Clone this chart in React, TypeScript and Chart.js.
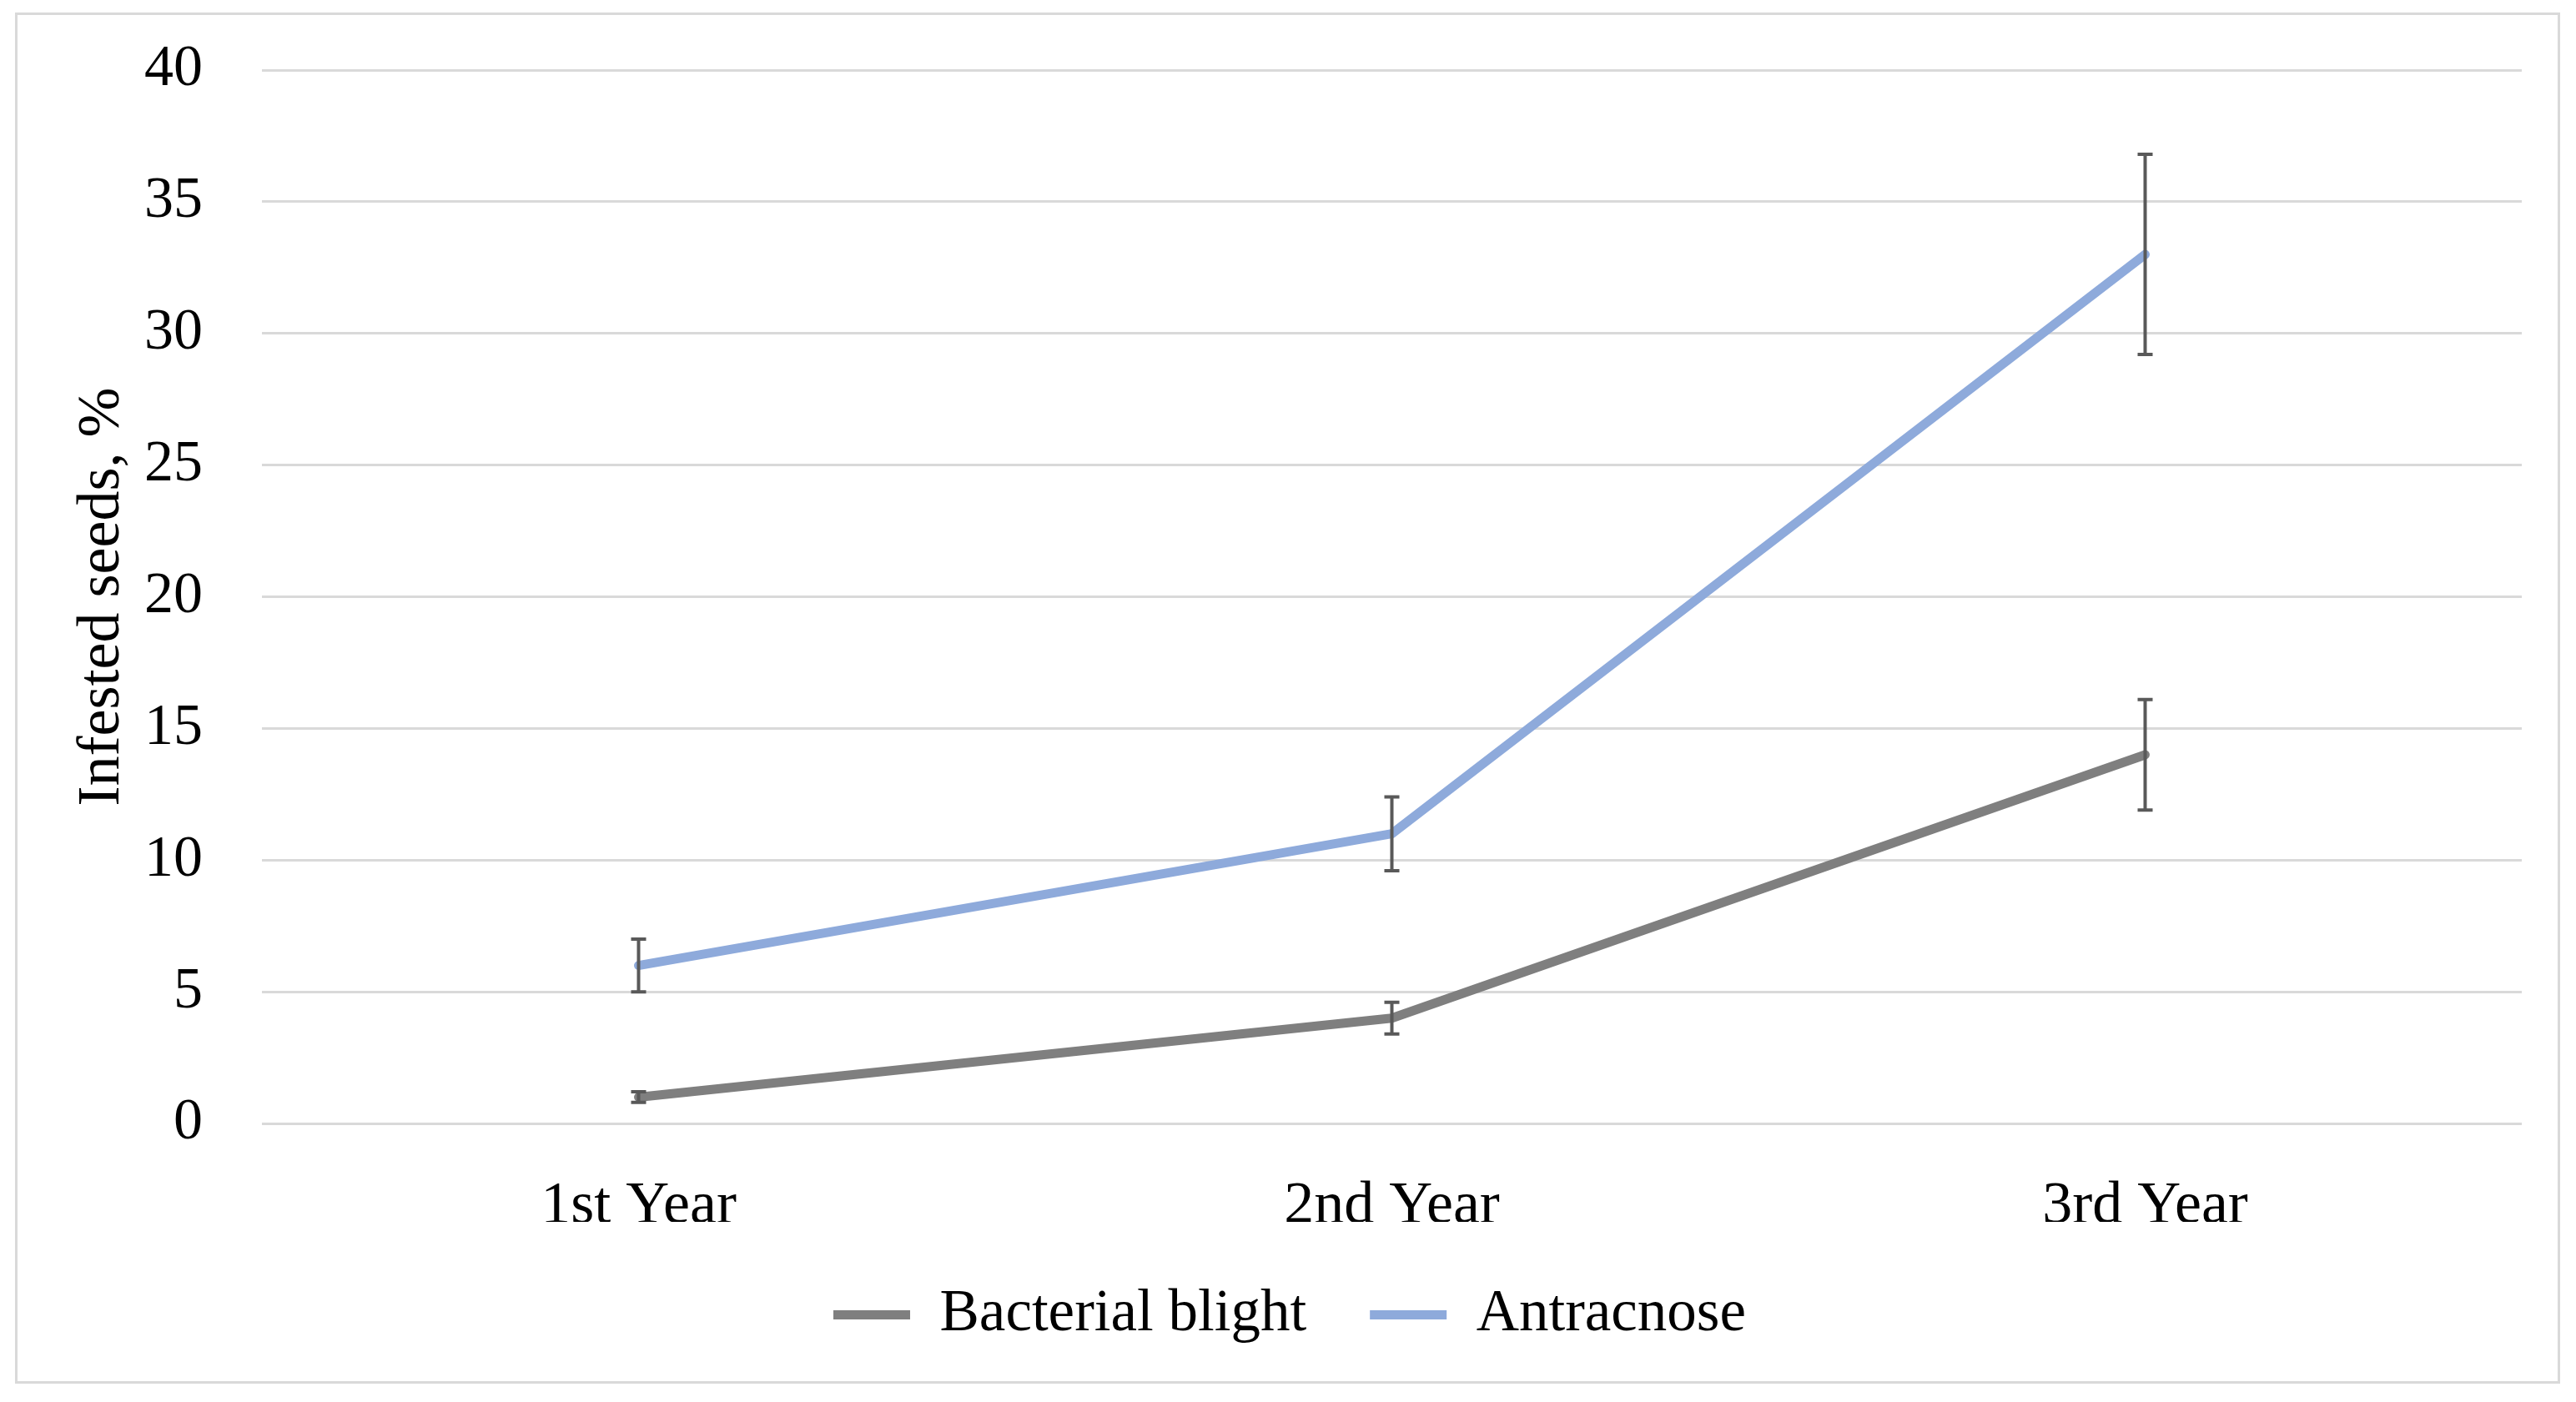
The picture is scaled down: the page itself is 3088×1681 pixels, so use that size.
import React, { useEffect, useRef } from 'react';
import { Chart, registerables } from 'chart.js';

Chart.register(...registerables);

const categories = ['1st Year', '2nd Year', '3rd Year'];
const seriesNames = ['Bacterial blight', 'Antracnose'];
const bacterialBlight = [1, 4, 14];
const bacterialBlightErr = [0.2, 0.6, 2.1];
const antracnose = [6, 11, 33];
const antracnoseErr = [1.0, 1.4, 3.8];
const yMin = 0;
const yMax = 40;
const yStep = 5;
const yTitle = 'Infested seeds, %';

const FONT = "'Liberation Serif', 'Times New Roman', serif";
const W = 3088;
const H = 1681;

const framePlugin = {
  id: 'frame',
  beforeDraw(chart: any) {
    const ctx = chart.ctx;
    ctx.save();
    ctx.fillStyle = '#ffffff';
    ctx.fillRect(0, 0, chart.width, chart.height);
    ctx.strokeStyle = '#d9d9d9';
    ctx.lineWidth = 3;
    ctx.strokeRect(19.5, 16.5, 3048, 1641);
    ctx.restore();
  },
};

const errorBarPlugin = {
  id: 'errorBars',
  afterDatasetsDraw(chart: any) {
    const ctx = chart.ctx;
    const xs = chart.scales.x;
    const ys = chart.scales.y;
    chart.data.datasets.forEach((ds: any) => {
      const errs: number[] = ds.errors;
      if (!errs) return;
      ds.data.forEach((v: number, i: number) => {
        const px = xs.getPixelForValue(i);
        const yt = ys.getPixelForValue(v + errs[i]);
        const yb = ys.getPixelForValue(v - errs[i]);
        ctx.save();
        ctx.strokeStyle = '#595959';
        ctx.lineWidth = 4;
        ctx.beginPath();
        ctx.moveTo(px, yt);
        ctx.lineTo(px, yb);
        ctx.moveTo(px - 9, yt);
        ctx.lineTo(px + 9, yt);
        ctx.moveTo(px - 9, yb);
        ctx.lineTo(px + 9, yb);
        ctx.stroke();
        ctx.restore();
      });
    });
  },
};

export default function App() {
  const ref = useRef<HTMLCanvasElement | null>(null);

  useEffect(() => {
    if (!ref.current) return;
    const chart = new Chart(ref.current, {
      type: 'line',
      data: {
        labels: categories,
        datasets: [
          {
            label: seriesNames[0],
            data: bacterialBlight,
            errors: bacterialBlightErr,
            borderColor: '#7f7f7f',
            backgroundColor: '#7f7f7f',
            borderWidth: 11,
            borderCapStyle: 'round',
            borderJoinStyle: 'round',
            pointRadius: 0,
            tension: 0,
          } as any,
          {
            label: seriesNames[1],
            data: antracnose,
            errors: antracnoseErr,
            borderColor: '#8eaadb',
            backgroundColor: '#8eaadb',
            borderWidth: 11,
            borderCapStyle: 'round',
            borderJoinStyle: 'round',
            pointRadius: 0,
            tension: 0,
          } as any,
        ],
      },
      options: {
        responsive: false,
        animation: false,
        layout: { padding: { left: 69, right: 65, top: 84, bottom: 59 } },
        plugins: {
          tooltip: { enabled: false },
          legend: {
            position: 'bottom',
            labels: {
              usePointStyle: true,
              pointStyle: 'line',
              pointStyleWidth: 92,
              padding: 76,
              color: '#000',
              font: { family: FONT, size: 71 },
            },
          },
        },
        scales: {
          x: {
            type: 'category',
            offset: true,
            grid: { display: false, drawTicks: false },
            border: { display: false },
            ticks: {
              color: '#000',
              padding: 57,
              font: { family: FONT, size: 72 },
            },
            afterFit(scale: any) {
              scale.height = 118;
            },
          },
          y: {
            min: yMin,
            max: yMax,
            ticks: {
              stepSize: yStep,
              color: '#000',
              padding: 5,
              font: { family: FONT, size: 70 },
            },
            grid: {
              color: '#d9d9d9',
              lineWidth: 3,
              drawTicks: true,
              tickLength: 66,
              tickColor: 'rgba(0,0,0,0)',
            },
            border: { display: false },
            title: {
              display: true,
              text: yTitle,
              color: '#000',
              padding: { top: 11, bottom: 0 },
              font: { family: FONT, size: 72 },
            },
            afterFit(scale: any) {
              scale.width = 245;
            },
          },
        },
      },
      plugins: [framePlugin, errorBarPlugin],
    } as any);
    return () => chart.destroy();
  }, []);

  return (
    <div style={{ position: 'absolute', left: 0, top: 0, width: W, height: H, background: '#fff' }}>
      <canvas ref={ref} width={W} height={H} style={{ display: 'block', width: W, height: H }} />
    </div>
  );
}
